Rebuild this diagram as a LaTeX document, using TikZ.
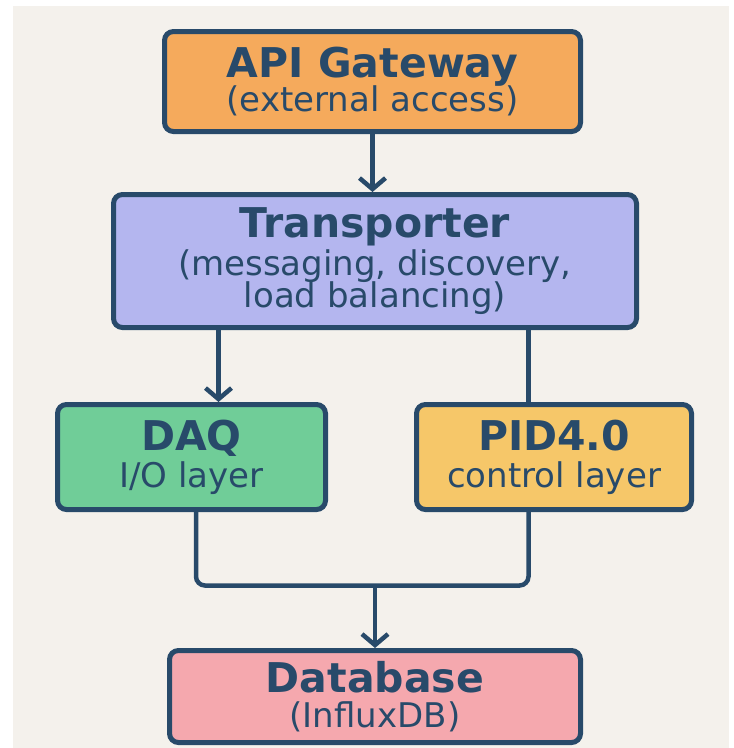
\documentclass[tikz,border=0pt]{standalone}
\usepackage{fontspec}
\setmainfont{DejaVu Sans}
\usetikzlibrary{arrows.meta, calc}
\definecolor{bgbeige}{HTML}{F4F1EC}
\definecolor{navy}{HTML}{284A6A}
\definecolor{apiorange}{HTML}{F5AA5C}
\definecolor{lavender}{HTML}{B4B6EF}
\definecolor{daqgreen}{HTML}{70CD98}
\definecolor{pidyellow}{HTML}{F6C769}
\definecolor{dbpink}{HTML}{F5A8AE}
\newcommand{\layerfont}{\fontsize{34}{32}\selectfont\setlength{\lineskiplimit}{-50pt}}
\newcommand{\layertitle}[1]{{\fontsize{41}{46}\bfseries\selectfont #1}}
\tikzset{
    layer/.style={draw=navy, line width=5pt, rounded corners=9pt, text=navy, align=center,
        inner sep=0pt, font=\layerfont},
    flow/.style={-{Straight Barb[length=11pt, width=26pt]}, navy, line width=4.5pt},
    link/.style={navy, line width=4.5pt, rounded corners=9pt}
}

\begin{document}
\begin{tikzpicture}[x=1pt, y=-1pt]
    \fill[white] (0,0) rectangle (734,748);
    \fill[bgbeige] (13,6) rectangle (729,748);
    \useasboundingbox (0,0) rectangle (734,748);
    % Слои системы
    \node[layer, fill=apiorange, minimum width=416pt, minimum height=100pt] (api) at (372.5,81.5)
        {\layertitle{API Gateway}\\[2pt](external access)};
    \node[layer, fill=lavender, minimum width=523pt, minimum height=133pt] (transp) at (375,261)
        {\layertitle{Transporter}\\[6pt](messaging, discovery,\\load balancing)};
    \node[layer, fill=daqgreen, minimum width=268pt, minimum height=105pt] (daq) at (191.5,457)
        {\layertitle{DAQ}\\[5pt]I/O layer};
    \node[layer, fill=pidyellow, minimum width=275pt, minimum height=105pt] (pid) at (554,457)
        {\layertitle{PID4.0}\\[5pt]control layer};
    \node[layer, fill=dbpink, minimum width=411pt, minimum height=92pt] (db) at (375,696.5)
        {\layertitle{Database}\\[3pt](InfluxDB)};
    % Связи
    \coordinate (tl) at ([xshift=107.5pt]transp.south west);
    \coordinate (tr) at ([xshift=-110.5pt]transp.south east);
    \coordinate (jn) at ([yshift=62.5pt]db.north);
    \draw[flow] (api.south) -- (api.south |- transp.north);
    \draw[flow] (tl) -- (tl |- daq.north);
    \draw[link] (tr) -- (tr |- pid.north);
    \draw[link] ([xshift=4.5pt]daq.south) |- (jn) -| (tr |- pid.south);
    \draw[flow] (jn) -- (db.north);
\end{tikzpicture}
\end{document}
